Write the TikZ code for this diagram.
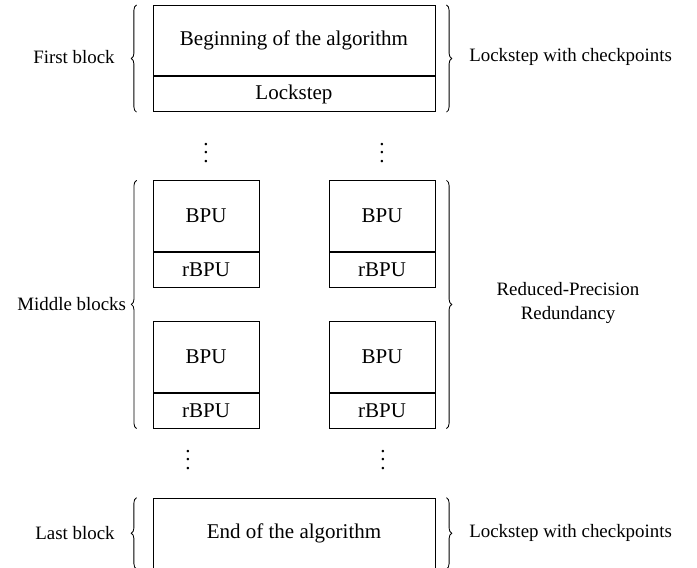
\documentclass[tikz,border=0pt]{standalone}
\usepackage{fontspec}
\setmainfont{Liberation Serif}
\usetikzlibrary{positioning,decorations.pathreplacing}

\begin{document}
\begin{tikzpicture}[
    blk/.style={draw, rectangle, inner sep=0pt},
    top/.style={blk, minimum height=1.18cm},
    bot/.style={blk, minimum height=0.586cm},
    brc/.style={decorate, decoration={brace, amplitude=2.5pt}},
    lbl/.style={font=\small, align=center}]
    \useasboundingbox (0,0) rectangle (11.665,-9.49);

    % first block
    \node[top, minimum width=4.72cm] (beg) at (4.92,-0.68) {Beginning of the algorithm};
    \node[bot, minimum width=4.72cm, below=0pt of beg] (lock) {Lockstep};
    \draw[brc] ([xshift=-0.268cm]lock.south west) -- ([xshift=-0.268cm]beg.north west);
    \draw[brc] ([xshift=0.185cm]beg.north east) -- ([xshift=0.185cm]lock.south east);
    \node[lbl] (first) at (1.238,-0.958) {First block};
    \node[lbl, anchor=west] (ck1) at (7.73,-0.958) {Lockstep with checkpoints};

    \node (d1) at (3.448,-2.455) {$\vdots$}; \node (d2) at (6.393,-2.455) {$\vdots$};

    % middle blocks
    \node[top, minimum width=1.774cm] (b11) at (3.448,-3.615) {BPU};
    \node[bot, minimum width=1.774cm, below=0pt of b11] (r11) {rBPU};
    \node[top, minimum width=1.774cm] (b12) at (6.393,-3.615) {BPU};
    \node[bot, minimum width=1.774cm, below=0pt of b12] (r12) {rBPU};
    \node[top, minimum width=1.774cm] (b21) at (3.448,-5.975) {BPU};
    \node[bot, minimum width=1.774cm, below=0pt of b21] (r21) {rBPU};
    \node[top, minimum width=1.774cm] (b22) at (6.393,-5.975) {BPU};
    \node[bot, minimum width=1.774cm, below=0pt of b22] (r22) {rBPU};
    \draw[brc] ([xshift=-0.268cm]r21.south west) -- ([xshift=-0.268cm]b11.north west);
    \draw[brc] ([xshift=0.185cm]b12.north east) -- ([xshift=0.185cm]r22.south east);
    \node[lbl] (middle) at (1.2,-5.088) {Middle blocks};
    \node[lbl] (rpr) at (9.506,-5.07) {Reduced-Precision\\Redundancy};

    \node (d3) at (3.146,-7.593) {$\vdots$}; \node (d4) at (6.41,-7.593) {$\vdots$};

    % last block
    \node[top, minimum width=4.72cm] (end) at (4.92,-8.925) {End of the algorithm};
    \draw[brc] ([xshift=-0.268cm]end.south west) -- ([xshift=-0.268cm]end.north west);
    \draw[brc] ([xshift=0.185cm]end.north east) -- ([xshift=0.185cm]end.south east);
    \node[lbl] (last) at (1.255,-8.925) {Last block};
    \node[lbl, anchor=west] (ck2) at (7.73,-8.925) {Lockstep with checkpoints};
\end{tikzpicture}
\end{document}
